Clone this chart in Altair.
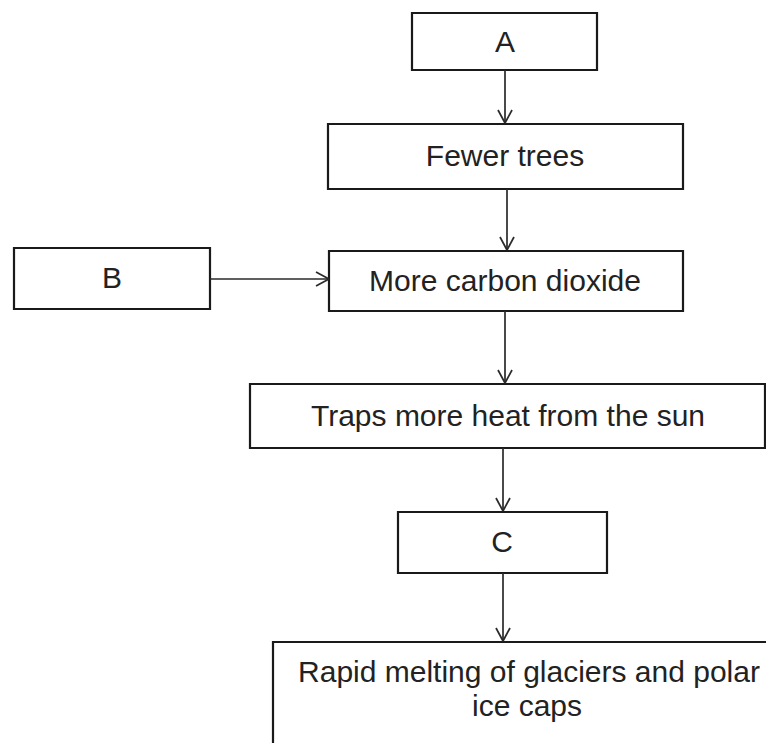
import altair as alt
import pandas as pd

# Boxes of the flowchart (reference pixel coordinates)
box_names = ["A", "Fewer trees", "B", "More carbon dioxide",
             "Traps more heat from the sun", "C", "Rapid melting"]
box_x1 = [412, 328, 14, 329, 250, 398, 273]
box_x2 = [597, 683, 210, 683, 765, 607, 800]
box_y1 = [13, 124, 248, 251, 384, 512, 642]
box_y2 = [70, 189, 309, 311, 448, 573, 780]

# Text labels
label_text = ["A", "Fewer trees", "B", "More carbon dioxide",
              "Traps more heat from the sun", "C",
              "Rapid melting of glaciers and polar", "ice caps"]
label_x = [505, 505, 112, 505, 508, 502, 529, 527]
label_y = [43, 157, 279, 282, 417, 543, 673, 707]

# Arrow shafts (start -> tip)
arrow_x1 = [505, 507, 210, 505, 503, 503]
arrow_y1 = [70, 189, 279, 311, 448, 573]
arrow_x2 = [505, 507, 329, 505, 503, 503]
arrow_y2 = [123, 250, 279, 383, 511, 641]

boxes = pd.DataFrame({"name": box_names, "x1": box_x1, "x2": box_x2,
                      "y1": box_y1, "y2": box_y2})
labels = pd.DataFrame({"text": label_text, "x": label_x, "y": label_y})
shafts = pd.DataFrame({"x1": arrow_x1, "y1": arrow_y1,
                       "x2": arrow_x2, "y2": arrow_y2})

# arrow heads: two short strokes at each tip
heads = []
for x1, y1, x2, y2 in zip(arrow_x1, arrow_y1, arrow_x2, arrow_y2):
    if x1 == x2:  # vertical, pointing down
        heads.append({"x1": x2 - 7, "y1": y2 - 13, "x2": x2, "y2": y2})
        heads.append({"x1": x2 + 7, "y1": y2 - 13, "x2": x2, "y2": y2})
    else:  # horizontal, pointing right
        heads.append({"x1": x2 - 13, "y1": y2 - 7, "x2": x2, "y2": y2})
        heads.append({"x1": x2 - 13, "y1": y2 + 7, "x2": x2, "y2": y2})
heads = pd.DataFrame(heads)

W, H = 758, 735
xs = alt.Scale(domain=[8, 8 + W], nice=False, zero=False)
ys = alt.Scale(domain=[8, 8 + H], nice=False, zero=False, reverse=True)

rects = alt.Chart(boxes).mark_rect(
    fill="white", stroke="#1a1a1a", strokeWidth=2.2, clip=True
).encode(
    x=alt.X("x1:Q", scale=xs, axis=None),
    x2="x2:Q",
    y=alt.Y("y1:Q", scale=ys, axis=None),
    y2="y2:Q",
)

shaft_layer = alt.Chart(shafts).mark_rule(color="#2a2a2a", strokeWidth=1.7).encode(
    x=alt.X("x1:Q", scale=xs, axis=None), x2="x2:Q",
    y=alt.Y("y1:Q", scale=ys, axis=None), y2="y2:Q",
)

head_layer = alt.Chart(heads).mark_rule(color="#2a2a2a", strokeWidth=1.7).encode(
    x=alt.X("x1:Q", scale=xs, axis=None), x2="x2:Q",
    y=alt.Y("y1:Q", scale=ys, axis=None), y2="y2:Q",
)

text_layer = alt.Chart(labels).mark_text(
    font="Liberation Sans", fontSize=30, color="#222222",
    align="center", baseline="middle"
).encode(
    x=alt.X("x:Q", scale=xs, axis=None),
    y=alt.Y("y:Q", scale=ys, axis=None),
    text="text:N",
)

chart = alt.layer(rects, shaft_layer, head_layer, text_layer).properties(
    width=W, height=H,
    autosize=alt.AutoSizeParams(type="none"),
    padding=0,
    background="white",
).configure_view(stroke=None)

chart.save("out.html", embed_options={"renderer": "svg", "actions": False})
